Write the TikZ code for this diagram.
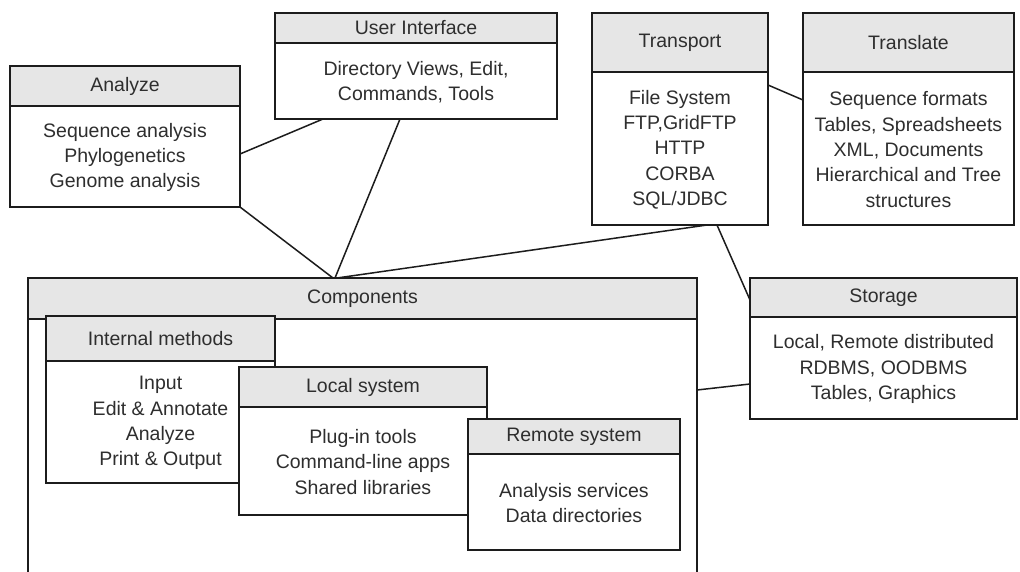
\documentclass[tikz,border=0pt]{standalone}
\usepackage{fontspec}
\setmainfont{Liberation Sans}
\usetikzlibrary{calc}
\definecolor{headgray}{HTML}{E6E6E6}
\definecolor{ink}{HTML}{1C1C1C}
\definecolor{txt}{HTML}{2E2E2E}
\tikzset{
  panelbox/.style={draw=ink, line width=1.6pt, fill=white, rectangle, inner sep=0pt, outer sep=0pt},
  panelhead/.style={panelbox, fill=headgray, text=txt, font=\fontsize{19.5}{25.3}\selectfont},
  paneltext/.style={align=center, text=txt, inner sep=0pt, font=\fontsize{19.5}{25.3}\selectfont},
  link/.style={draw=ink, line width=1.5pt},
}
% #1 name, #2 left, #3 top, #4 right, #5 bottom, #6 bottom of the title bar, #7 title, #8 contents
\newcommand{\drawpanel}[8]{%
  \node[panelbox, minimum width={#4-#2}, minimum height={#5-#3}] (#1) at ({(#2+#4)/2},{(#3+#5)/2}) {};
  \node[panelhead, minimum width={#4-#2}, minimum height={#6-#3}, anchor=north] (#1-head) at (#1.north) {#7};
  \node[paneltext] (#1-body) at ($(#1-head.south)!0.5!(#1.south)+(0,1)$) {#8};
}
\begin{document}
\begin{tikzpicture}[x=1pt, y=-1pt]
  \fill[white] (0,0) rectangle (1020,571);
  \useasboundingbox (0,0) rectangle (1020,571);
  \clip (0,0) rectangle (1020,571);

  \drawpanel{analyze}{10}{66}{240}{207}{106}{Analyze}{Sequence analysis\\Phylogenetics\\Genome analysis}
  \drawpanel{ui}{275}{13}{557}{119}{43}{User Interface}{Directory Views, Edit,\\Commands, Tools}
  \drawpanel{transport}{592}{13}{768}{225}{72}{Transport}{File System\\FTP,GridFTP\\HTTP\\CORBA\\SQL/JDBC}
  \drawpanel{translate}{803}{13}{1014}{225}{72}{Translate}{Sequence formats\\Tables, Spreadsheets\\XML, Documents\\Hierarchical and Tree\\structures}
  \drawpanel{storage}{750}{278}{1017}{419}{317}{Storage}{Local, Remote distributed\\RDBMS, OODBMS\\Tables, Graphics}

  \drawpanel{components}{28}{278}{697}{620}{319}{Components}{}
  \drawpanel{internal}{46}{316}{275}{483}{361}{Internal methods}{Input\\Edit \& Annotate\\Analyze\\Print \& Output}
  \drawpanel{local}{239}{367}{487}{515}{407}{Local system}{Plug-in tools\\Command-line apps\\Shared libraries}
  \drawpanel{remote}{468}{419}{680}{550}{454}{Remote system}{Analysis services\\Data directories}

  % connectors between the panels
  \draw[link] ([yshift=-17.5pt]analyze.east) -- ([xshift=-93pt]ui.south);
  \draw[link] (analyze.south east) -- ([xshift=-29.5pt]components.north);
  \draw[link] ([xshift=-16pt]ui.south) -- ([xshift=-27.5pt]components.north);
  \draw[link] ([xshift=-25.5pt]components.north) -- ([xshift=27pt]transport.south);
  \draw[link] ([yshift=34pt]transport.east) -- ([yshift=19pt]translate.west);
  \draw[link] ([xshift=37pt]transport.south) -- ([yshift=48.5pt]storage.west);
  \draw[link] ([yshift=59pt]components.east) -- ([yshift=-35.5pt]storage.west);
\end{tikzpicture}
\end{document}
